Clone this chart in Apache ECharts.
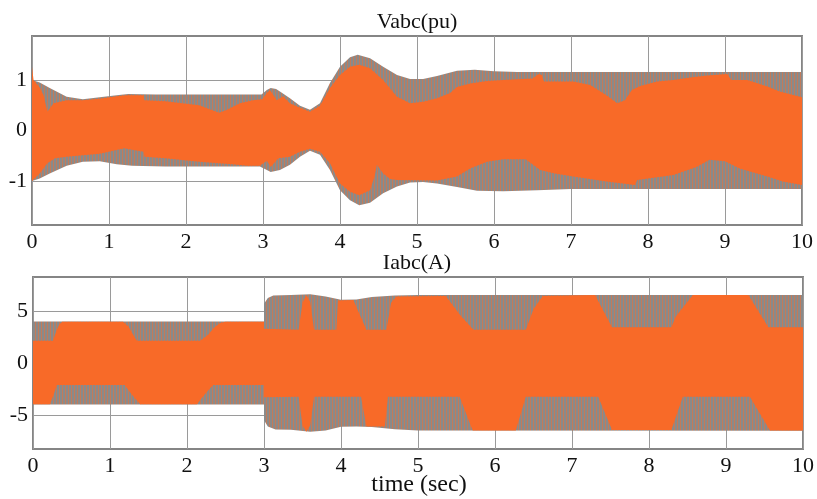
<!DOCTYPE html>
<html><head><meta charset="utf-8">
<script src="https://cdn.jsdelivr.net/npm/echarts@6/dist/echarts.min.js"></script>
<style>html,body{margin:0;padding:0;background:#fff}#c{width:817px;height:499px}</style>
</head><body><div id="c"></div>
<script>
// ---- tick labels ----
const timeTicks = [0,1,2,3,4,5,6,7,8,9,10];
const vTicks = [-1, 0, 1];
const iTicks = [-5, 0, 5];
const titles = ['Vabc(pu)', 'Iabc(A)'];
const xName = 'time (sec)';

// ---- Vabc envelopes [time, value] ----
const vGreyUpper = [[0,1.0],[0.1,0.95],[0.23,0.84],[0.45,0.67],[0.66,0.62],[0.88,0.66],[1.1,0.7],[1.25,0.72],[1.6,0.71],[2.5,0.71],[2.98,0.71],[3.05,0.8],[3.1,0.84],[3.17,0.82],[3.22,0.77],[3.35,0.64],[3.48,0.49],[3.61,0.41],[3.74,0.54],[3.87,0.94],[4.0,1.26],[4.13,1.45],[4.23,1.5],[4.39,1.43],[4.56,1.26],[4.74,1.1],[4.91,1.02],[5.08,1.02],[5.26,1.08],[5.52,1.18],[5.75,1.2],[6.0,1.17],[6.3,1.16],[10,1.16]];
const vGreyLower = [[0,-1.0],[0.1,-0.95],[0.23,-0.85],[0.45,-0.7],[0.66,-0.62],[0.88,-0.61],[1.1,-0.67],[1.3,-0.7],[1.73,-0.71],[2.96,-0.71],[3.05,-0.78],[3.1,-0.82],[3.22,-0.78],[3.35,-0.68],[3.48,-0.52],[3.61,-0.4],[3.74,-0.48],[3.87,-0.78],[4.0,-1.18],[4.13,-1.38],[4.25,-1.48],[4.39,-1.43],[4.56,-1.24],[4.74,-1.11],[4.91,-1.03],[5.08,-1.02],[5.26,-1.05],[5.52,-1.12],[5.78,-1.19],[6.12,-1.2],[6.56,-1.18],[7.0,-1.16],[10,-1.16]];
const vOrangeUpper = [[0,1.26],[0.02,1.0],[0.1,0.85],[0.15,0.7],[0.2,0.37],[0.28,0.54],[0.45,0.6],[0.66,0.6],[0.88,0.63],[1.1,0.68],[1.23,0.7],[1.45,0.7],[1.46,0.6],[1.73,0.58],[2.17,0.5],[2.43,0.35],[2.52,0.4],[2.7,0.54],[2.87,0.6],[2.99,0.62],[3.05,0.74],[3.09,0.8],[3.18,0.6],[3.26,0.68],[3.35,0.54],[3.48,0.45],[3.61,0.37],[3.74,0.49],[3.87,0.84],[4.0,1.1],[4.13,1.26],[4.25,1.3],[4.39,1.23],[4.56,1.0],[4.74,0.67],[4.91,0.54],[5.08,0.57],[5.26,0.64],[5.43,0.74],[5.52,0.86],[5.69,0.93],[5.91,0.98],[6.12,1.0],[6.5,1.03],[6.58,1.12],[6.62,1.1],[6.65,0.97],[7.03,0.97],[7.25,0.9],[7.46,0.7],[7.6,0.54],[7.7,0.6],[7.79,0.8],[7.9,0.88],[8.12,0.97],[8.33,1.0],[8.55,1.05],[8.77,1.09],[9.03,1.12],[9.08,1.0],[9.29,1.0],[9.55,0.87],[9.71,0.77],[10,0.66]];
const vOrangeLower = [[0,-1.0],[0.1,-0.85],[0.2,-0.65],[0.3,-0.55],[0.45,-0.52],[0.66,-0.49],[0.88,-0.46],[1.2,-0.35],[1.3,-0.38],[1.45,-0.42],[1.46,-0.52],[1.73,-0.55],[2.17,-0.62],[2.6,-0.67],[2.8,-0.7],[2.96,-0.7],[3.05,-0.6],[3.1,-0.72],[3.2,-0.55],[3.35,-0.52],[3.48,-0.42],[3.61,-0.36],[3.74,-0.42],[3.87,-0.65],[4.0,-1.05],[4.13,-1.21],[4.25,-1.28],[4.39,-1.18],[4.45,-0.9],[4.48,-0.68],[4.56,-0.85],[4.65,-0.96],[4.74,-0.98],[5.26,-0.99],[5.52,-0.91],[5.69,-0.75],[5.91,-0.62],[6.12,-0.57],[6.41,-0.57],[6.6,-0.78],[6.79,-0.85],[7.03,-0.91],[7.46,-1.01],[7.83,-1.08],[7.86,-0.98],[8.33,-0.88],[8.63,-0.72],[8.8,-0.58],[9.0,-0.61],[9.19,-0.75],[9.55,-0.91],[9.75,-1.01],[10,-1.08]];

// ---- Iabc envelopes [time, value] ----
const iGreyUpper = [[0,4.0],[3.0,4.0],[3.0,5.7],[3.05,6.25],[3.12,6.5],[3.35,6.55],[3.6,6.62],[3.8,6.4],[4.0,6.08],[4.2,6.1],[4.4,6.35],[4.7,6.5],[5.0,6.54],[10,6.54]];
const iGreyLower = [[0,-4.0],[3.0,-4.0],[3.0,-5.5],[3.05,-6.1],[3.15,-6.4],[3.35,-6.42],[3.6,-6.6],[3.8,-6.5],[4.0,-6.12],[4.2,-6.1],[4.4,-6.15],[4.7,-6.38],[5.0,-6.5],[10,-6.52]];
const iOrangeUpper = [[0,2.15],[0.26,2.15],[0.3,3.0],[0.34,3.7],[0.38,3.97],[1.17,3.97],[1.24,3.5],[1.31,2.6],[1.35,2.15],[2.17,2.15],[2.27,2.7],[2.35,3.4],[2.43,3.85],[2.5,3.97],[3.0,3.97],[3.0,3.3],[3.45,3.2],[3.5,5.8],[3.55,6.55],[3.6,5.9],[3.65,3.2],[3.94,3.2],[3.96,6.0],[4.16,6.06],[4.33,3.2],[4.59,3.2],[4.65,5.8],[4.72,6.4],[5.36,6.45],[5.55,4.6],[5.72,3.2],[6.4,3.2],[6.5,5.2],[6.62,6.45],[7.3,6.54],[7.52,3.43],[8.29,3.43],[8.35,4.5],[8.57,6.54],[9.29,6.54],[9.55,3.43],[10,3.43]];
const iOrangeLower = [[0,-3.97],[0.22,-3.97],[0.27,-3.0],[0.31,-2.12],[1.19,-2.12],[1.28,-3.0],[1.39,-3.97],[2.13,-3.97],[2.2,-3.3],[2.28,-2.6],[2.34,-2.12],[3.0,-2.12],[3.0,-3.3],[3.45,-3.24],[3.5,-6.0],[3.55,-6.6],[3.6,-6.0],[3.65,-3.24],[4.26,-3.24],[4.33,-6.1],[4.57,-6.1],[4.61,-3.24],[5.54,-3.24],[5.71,-6.5],[6.27,-6.5],[6.4,-3.24],[7.34,-3.24],[7.52,-6.44],[8.29,-6.44],[8.44,-3.24],[9.31,-3.24],[9.57,-6.5],[10,-6.5]];

// ---- styling ----
const ORANGE = '#f86a28';
const FONT = 'Liberation Serif';
function stripePattern() {
  const c = document.createElement('canvas');
  c.width = 3; c.height = 4;
  const g = c.getContext('2d');
  g.fillStyle = '#8a8a8a'; g.fillRect(0, 0, 3, 4);
  g.fillStyle = '#c27b5a'; g.fillRect(2, 0, 1, 4);
  return c;
}
const GREY_FILL = { image: stripePattern(), repeat: 'repeat' };

function band(upper, lower, fill, axisIdx) {
  return {
    type: 'custom', xAxisIndex: axisIdx, yAxisIndex: axisIdx,
    clip: true, silent: true, animation: false,
    data: [[0, 0]],
    renderItem: function (params, api) {
      const pts = upper.map(p => api.coord(p))
        .concat(lower.slice().reverse().map(p => api.coord(p)));
      return { type: 'polygon', shape: { points: pts }, style: { fill: fill } };
    }
  };
}

const labelStyle = { fontFamily: FONT, fontSize: 22, color: '#111' };
function xAxis(idx) {
  return {
    type: 'value', gridIndex: idx, min: 0, max: 10, interval: 1,
    axisLine: { show: false }, axisTick: { show: false },
    axisLabel: Object.assign({ margin: 6, customValues: timeTicks }, labelStyle),
    splitLine: { show: true, lineStyle: { color: '#9a9a9a', width: 1 } }
  };
}
function yAxis(idx, lim, ticks) {
  return {
    type: 'value', gridIndex: idx, min: -lim, max: lim,
    axisLine: { show: false },
    axisTick: { show: false, customValues: ticks },
    axisLabel: Object.assign({ margin: 5, customValues: ticks }, labelStyle),
    splitLine: { show: true, lineStyle: { color: '#9a9a9a', width: 1 } }
  };
}

const chart = echarts.init(document.getElementById('c'), null, { renderer: 'canvas' });
chart.setOption({
  animation: false,
  backgroundColor: '#fff',
  grid: [
    { left: 32, right: 15, top: 36, height: 189, show: true, borderColor: '#858585', borderWidth: 2, backgroundColor: 'transparent' },
    { left: 33, right: 14, top: 277, height: 172, show: true, borderColor: '#858585', borderWidth: 2, backgroundColor: 'transparent' }
  ],
  xAxis: [xAxis(0), xAxis(1)],
  yAxis: [yAxis(0, 1.87, vTicks), yAxis(1, 8.27, iTicks)],
  graphic: [
    { type: 'text', x: 417, y: 22, style: { text: titles[0], font: '22px "Liberation Serif"', fill: '#111', textAlign: 'center', textVerticalAlign: 'middle' } },
    { type: 'text', x: 417, y: 263, style: { text: titles[1], font: '22px "Liberation Serif"', fill: '#111', textAlign: 'center', textVerticalAlign: 'middle' } },
    { type: 'text', x: 419, y: 485, style: { text: xName, font: '24px "Liberation Serif"', fill: '#111', textAlign: 'center', textVerticalAlign: 'middle' } }
  ],
  series: [
    band(vGreyUpper, vGreyLower, GREY_FILL, 0),
    band(vOrangeUpper, vOrangeLower, ORANGE, 0),
    band(iGreyUpper, iGreyLower, GREY_FILL, 1),
    band(iOrangeUpper, iOrangeLower, ORANGE, 1)
  ]
});
</script></body></html>
